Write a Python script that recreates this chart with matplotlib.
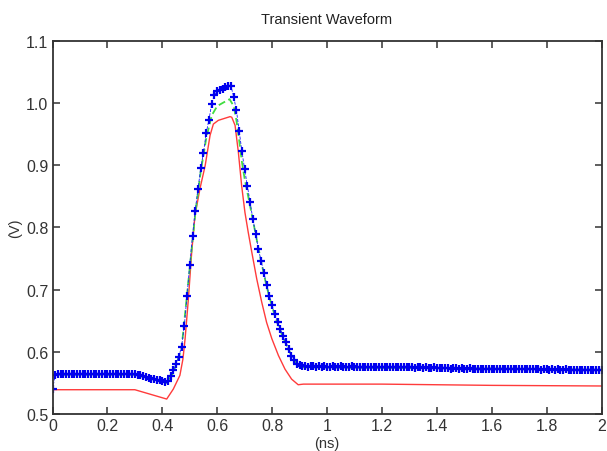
import numpy as np
import matplotlib
matplotlib.use("Agg")
import matplotlib.pyplot as plt

plt.rcParams['font.family'] = ['Liberation Sans', 'DejaVu Sans']

# ---------- data ----------
# blue '+' trace, sampled every 0.01 ns from 0 to 2 ns
blue_v = [
    0.540, 0.562, 0.564, 0.564, 0.564, 0.564, 0.564, 0.564, 0.564, 0.564,
    0.564, 0.564, 0.564, 0.564, 0.564, 0.564, 0.564, 0.564, 0.564, 0.564,
    0.564, 0.564, 0.564, 0.564, 0.564, 0.564, 0.564, 0.564, 0.564, 0.564,
    0.564, 0.563, 0.562, 0.561, 0.560, 0.558, 0.557, 0.556, 0.555, 0.554,
    0.553, 0.551, 0.553, 0.561, 0.570, 0.580, 0.592, 0.608, 0.641, 0.690,
    0.740, 0.786, 0.827, 0.862, 0.895, 0.920, 0.952, 0.973, 0.999, 1.013,
    1.019, 1.021, 1.023, 1.025, 1.027, 1.027, 1.010, 0.988, 0.955, 0.922,
    0.893, 0.866, 0.840, 0.813, 0.790, 0.765, 0.746, 0.727, 0.708, 0.690,
    0.675, 0.660, 0.648, 0.636, 0.625, 0.616, 0.605, 0.594, 0.586, 0.580,
    0.578, 0.577, 0.577, 0.576, 0.577, 0.577, 0.576, 0.577, 0.576, 0.577,
    0.576, 0.576, 0.577, 0.576, 0.576, 0.577, 0.576, 0.576, 0.576, 0.577,
    0.576, 0.576, 0.576, 0.575, 0.576, 0.576, 0.575, 0.576, 0.576, 0.575,
    0.575, 0.576, 0.575, 0.575, 0.575, 0.576, 0.575, 0.575, 0.575, 0.575,
    0.575, 0.575, 0.574, 0.575, 0.575, 0.574, 0.575, 0.574, 0.574, 0.575,
    0.574, 0.574, 0.574, 0.574, 0.574, 0.573, 0.574, 0.574, 0.573, 0.574,
    0.573, 0.573, 0.574, 0.573, 0.573, 0.573, 0.573, 0.573, 0.573, 0.573,
    0.573, 0.572, 0.573, 0.573, 0.572, 0.573, 0.572, 0.572, 0.573, 0.572,
    0.572, 0.572, 0.572, 0.572, 0.572, 0.572, 0.572, 0.572, 0.571, 0.572,
    0.572, 0.571, 0.572, 0.571, 0.572, 0.571, 0.571, 0.572, 0.571, 0.571,
    0.571, 0.571, 0.571, 0.571, 0.571, 0.571, 0.571, 0.571, 0.571, 0.571,
    0.571,
]
blue_t = np.linspace(0.0, 2.0, len(blue_v))

green_t = [0.0, 0.30, 0.416, 0.44, 0.47, 0.50, 0.52, 0.54, 0.56, 0.58,
           0.60, 0.62, 0.645, 0.66, 0.67, 0.68, 0.69, 0.70, 0.72, 0.74,
           0.76, 0.78, 0.80, 0.82, 0.84, 0.86, 0.88, 0.90, 0.91, 1.2, 1.6, 2.0]
green_v = [0.563, 0.563, 0.550, 0.566, 0.605, 0.735, 0.822, 0.890, 0.943, 0.980,
           0.995, 1.000, 1.006, 0.995, 0.972, 0.940, 0.905, 0.878, 0.834, 0.789,
           0.745, 0.705, 0.672, 0.645, 0.623, 0.603, 0.586, 0.577, 0.575, 0.574,
           0.573, 0.571]

red_t = [0.0, 0.30, 0.416, 0.44, 0.464, 0.475, 0.483, 0.495, 0.507, 0.519,
         0.537, 0.556, 0.574, 0.586, 0.604, 0.647, 0.653, 0.665, 0.677, 0.689,
         0.701, 0.713, 0.726, 0.744, 0.762, 0.780, 0.799, 0.823, 0.847, 0.871,
         0.895, 0.914, 1.2, 1.6, 2.0]
red_v = [0.539, 0.539, 0.524, 0.540, 0.562, 0.588, 0.621, 0.685, 0.760, 0.819,
         0.862, 0.899, 0.948, 0.966, 0.972, 0.978, 0.977, 0.964, 0.921, 0.867,
         0.824, 0.792, 0.760, 0.717, 0.680, 0.647, 0.621, 0.594, 0.572, 0.556,
         0.547, 0.548, 0.548, 0.546, 0.545]

x_ticks = [0, 0.2, 0.4, 0.6, 0.8, 1, 1.2, 1.4, 1.6, 1.8, 2]
x_labels = ['0', '0.2', '0.4', '0.6', '0.8', '1', '1.2', '1.4', '1.6', '1.8', '2']
y_ticks = [0.5, 0.6, 0.7, 0.8, 0.9, 1.0, 1.1]
y_labels = ['0.5', '0.6', '0.7', '0.8', '0.9', '1.0', '1.1']

# ---------- plot ----------
fig = plt.figure(figsize=(6.07, 4.52), dpi=100)
ax = fig.add_axes([0.0865, 0.0819, 0.9045, 0.8258])

ax.plot(red_t, red_v, color='#ff3b3b', lw=1.0)
ax.plot(green_t, green_v, color='#40dd40', lw=1.3, linestyle=(0, (4, 2)))
ax.plot(blue_t, blue_v, color='#1a1aff', lw=0.6, linestyle='--',
        marker='+', markersize=6, markeredgewidth=1.6, markeredgecolor='#0000ee')

ax.set_xlim(0, 2)
ax.set_ylim(0.5, 1.1)
ax.set_xticks(x_ticks)
ax.set_xticklabels(x_labels)
ax.set_yticks(y_ticks)
ax.set_yticklabels(y_labels)
ax.tick_params(direction='in', top=True, right=True, length=5, width=1.1,
               labelsize=11.5, colors='#333333', pad=3)
for s in ax.spines.values():
    s.set_linewidth(1.3)
    s.set_color('#333333')

ax.set_title('Transient Waveform', fontsize=10.5, color='#222222', pad=13)
ax.set_xlabel('(ns)', fontsize=10.5, color='#333333', labelpad=2)
ax.set_ylabel('(V)', fontsize=10.5, color='#333333', labelpad=3)

fig.savefig('out.png', dpi=100)
